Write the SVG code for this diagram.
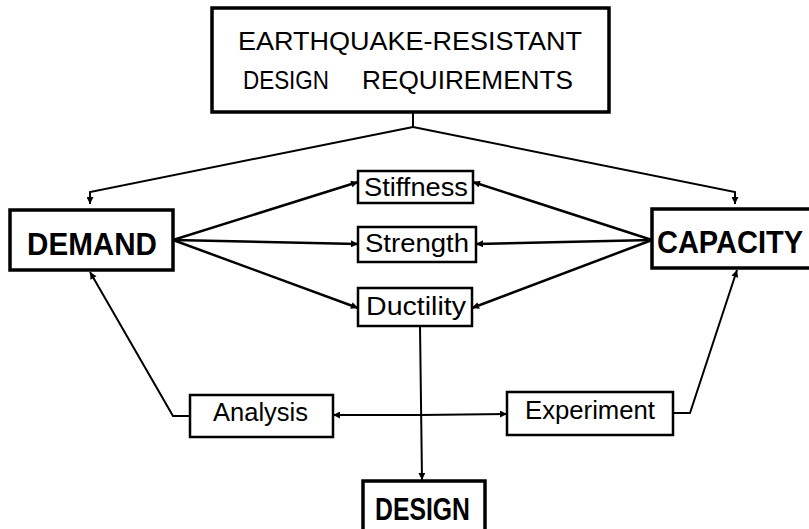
<svg xmlns="http://www.w3.org/2000/svg" width="809" height="529" viewBox="0 0 809 529">
<defs>
<marker id="ah" viewBox="0 0 10 10" refX="10" refY="5" markerWidth="8" markerHeight="7" markerUnits="userSpaceOnUse" orient="auto">
<path d="M0,0 L10,5 L0,10 z" fill="#000"/>
</marker>
<style>
.box{fill:#fff;stroke:#000;stroke-width:2.5}
.bbox{fill:#fff;stroke:#000;stroke-width:3.5}
.t{font-family:"Liberation Sans",Arial,sans-serif;fill:#000}
.big{font-family:"Liberation Sans",Arial,sans-serif;font-weight:bold;fill:#000}
.c{fill:none;stroke:#000;stroke-width:2}
.ca{fill:none;stroke:#000;stroke-width:2;marker-end:url(#ah)}
.cb{fill:none;stroke:#000;stroke-width:2.5;marker-end:url(#ah)}
</style>
</defs>
<rect width="809" height="529" fill="#fff"/>
<g id="connectors">
<path class="c" d="M413,112 L413,127"/>
<path class="ca" d="M413,127 L90,192 L90,204"/>
<path class="ca" d="M413,127 L735,192 L735,204"/>
<path class="cb" d="M173,240 L358,182"/>
<path class="cb" d="M173,240 L358,244"/>
<path class="cb" d="M173,240 L358,308"/>
<path class="cb" d="M652,240 L473,182"/>
<path class="cb" d="M652,240 L476,244"/>
<path class="cb" d="M652,240 L472,308"/>
<path class="ca" d="M190,416 L173,416 L90,272"/>
<path class="ca" d="M673,413 L690,413 L737,270"/>
<path class="ca" d="M420,415 L333,415"/>
<path class="ca" d="M420,415 L507,414"/>
<path class="ca" d="M420,326 L422,480"/>
</g>
<g id="requirements">
<rect class="bbox" x="212" y="8" width="397" height="104"/>
<text class="t" x="238" y="50" font-size="25" textLength="344" lengthAdjust="spacingAndGlyphs">EARTHQUAKE-RESISTANT</text>
<text class="t" y="89" font-size="25"><tspan x="243" textLength="86" lengthAdjust="spacingAndGlyphs">DESIGN</tspan> <tspan x="362" textLength="211" lengthAdjust="spacingAndGlyphs">REQUIREMENTS</tspan></text>
</g>
<g id="demand">
<rect class="bbox" x="10" y="210" width="163" height="60"/>
<text class="big" x="27" y="255" font-size="32" textLength="130" lengthAdjust="spacingAndGlyphs">DEMAND</text>
</g>
<g id="capacity">
<rect class="bbox" x="652" y="209" width="165" height="59"/>
<text class="big" x="657" y="253" font-size="31" textLength="146" lengthAdjust="spacingAndGlyphs">CAPACITY</text>
</g>
<g id="stiffness">
<rect class="box" x="358" y="171" width="115" height="32"/>
<text class="t" x="364" y="196" font-size="25" textLength="104" lengthAdjust="spacingAndGlyphs">Stiffness</text>
</g>
<g id="strength">
<rect class="box" x="358" y="227" width="118" height="35"/>
<text class="t" x="365" y="252" font-size="25" textLength="104" lengthAdjust="spacingAndGlyphs">Strength</text>
</g>
<g id="ductility">
<rect class="box" x="358" y="288" width="114" height="38"/>
<text class="t" x="366" y="315" font-size="25" textLength="100" lengthAdjust="spacingAndGlyphs">Ductility</text>
</g>
<g id="analysis">
<rect class="box" x="190" y="395" width="143" height="42"/>
<text class="t" x="213" y="421" font-size="25" textLength="95" lengthAdjust="spacingAndGlyphs">Analysis</text>
</g>
<g id="experiment">
<rect class="box" x="507" y="392" width="166" height="43"/>
<text class="t" x="525" y="419" font-size="25" textLength="130" lengthAdjust="spacingAndGlyphs">Experiment</text>
</g>
<g id="design">
<rect class="bbox" x="363" y="481" width="122" height="50"/>
<text class="big" x="375" y="520" font-size="31" textLength="95" lengthAdjust="spacingAndGlyphs">DESIGN</text>
</g>
</svg>
